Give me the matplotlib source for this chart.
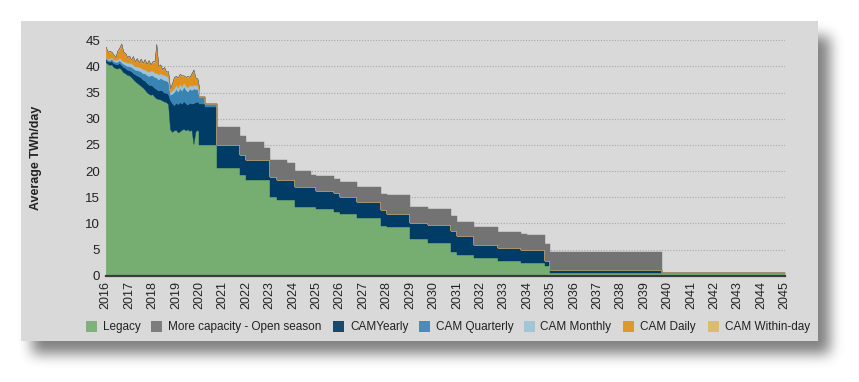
import matplotlib
matplotlib.use('Agg')
import matplotlib.pyplot as plt
from matplotlib.patches import Rectangle
import numpy as np
import pandas as pd

# ---------------- DATA ----------------
# History (monthly, Jan 2016 .. Jan 2020), values in TWh/day (layer thickness)
hist_dates = pd.date_range('2016-01-01', '2020-01-01', freq='MS')
hist_legacy = [40.8, 40.5, 40.3, 40.4, 39.9, 39.7, 39.6, 39.8, 39.4, 38.9, 38.7, 38.4,
               38.3, 38.0, 37.6, 37.2, 36.9, 36.6, 36.3, 36.0, 35.6, 35.1, 34.8, 34.6,
               34.7, 34.2, 33.9, 33.8, 33.7, 33.5, 33.3, 33.2, 32.8,
               28.0, 27.5, 27.8, 27.9, 27.4, 27.6, 27.9, 28.1, 27.8, 28.0, 27.7, 27.9, 25.2, 27.6, 27.9,
               27.5]
hist_yearly = [0.6, 0.5, 0.6, 0.7, 0.7, 0.8, 0.8, 0.9, 0.9, 1.0, 1.0, 1.0,
               1.0, 1.1, 1.2, 1.3, 1.4, 1.5, 1.6, 1.5, 1.7, 1.8, 1.7, 1.9,
               1.6, 1.7, 1.8, 1.6, 1.8, 1.9, 1.7, 1.8, 1.9,
               5.6, 5.5, 4.8, 5.2, 5.4, 5.6, 5.0, 5.3, 5.2, 4.7, 5.4, 5.0, 7.8, 5.6, 5.4,
               5.6]
hist_quarterly = [0.3, 0.3, 0.3, 0.4, 0.4, 0.4, 0.5, 0.5, 0.5, 0.6, 0.6, 0.7,
                  0.8, 0.8, 0.9, 0.9, 1.0, 1.1, 1.2, 1.2, 1.4, 1.5, 1.7, 1.8,
                  2.0, 2.1, 2.2, 2.1, 2.3, 2.2, 2.4, 2.3, 2.4,
                  1.0, 1.8, 2.5, 2.6, 2.4, 2.7, 2.5, 2.8, 2.6, 2.5, 2.7, 2.6, 2.8, 2.5, 2.4,
                  1.0]
hist_monthly = [0.2, 0.2, 0.3, 0.3, 0.3, 0.4, 0.4, 0.5, 0.5, 0.5, 0.6, 0.6,
                0.6, 0.7, 0.7, 0.6, 0.7, 0.7, 0.7, 0.8, 0.7, 0.8, 0.8, 0.9,
                0.9, 0.8, 0.9, 1.0, 0.9, 0.9, 1.0, 0.9, 0.9,
                0.5, 0.6, 0.7, 0.8, 0.7, 0.8, 0.7, 0.8, 0.7, 0.8, 0.7, 0.8, 0.7, 0.8, 0.7,
                0.6]
hist_daily = [1.7, 1.2, 1.4, 0.8, 0.9, 0.4, 1.5, 1.6, 2.9, 1.7, 1.6, 1.0,
              1.3, 0.6, 1.4, 0.9, 1.5, 0.8, 1.6, 1.0, 1.9, 1.2, 2.1, 1.1,
              1.7, 2.0, 5.2, 1.5, 1.6, 0.9, 1.4, 0.7, 1.0,
              0.6, 1.3, 2.0, 1.6, 1.9, 1.7, 2.1, 1.2, 1.6, 2.0, 1.4, 2.3, 2.7, 1.3, 1.2,
              1.0]
hist_withinday = [0.2, 0.1, 0.1, 0.2, 0.1, 0.1, 0.2, 0.3, 0.2, 0.1, 0.1, 0.1,
                  0.1, 0.1, 0.2, 0.1, 0.1, 0.1, 0.1, 0.2, 0.1, 0.1, 0.1, 0.1,
                  0.1, 0.2, 0.3, 0.1, 0.1, 0.1, 0.1, 0.1, 0.1,
                  0.1, 0.1, 0.2, 0.1, 0.1, 0.2, 0.1, 0.1, 0.1, 0.2, 0.1, 0.1, 0.2, 0.1, 0.1,
                  0.0]
hist_more = [0.0] * len(hist_legacy)

# Forecast (step periods, value holds from each start until the next)
fc_start = [2020.0, 2020.25, 2020.75, 2021.75, 2022.0, 2022.75, 2023.0, 2023.3, 2023.75,
            2024.08, 2024.75, 2025.0, 2025.75, 2026.0, 2026.75, 2027.75, 2028.0, 2029.0,
            2029.75, 2030.75, 2031.0, 2031.75, 2032.75, 2033.75, 2034.0, 2034.75, 2035.0,
            2039.75, 2045.0]
fc_legacy = [25.0, 25.0, 20.5, 19.3, 18.3, 18.3, 15.1, 14.5, 14.5, 13.2, 13.2, 12.7, 12.2,
             11.8, 11.0, 9.5, 9.3, 7.0, 6.3, 4.6, 4.0, 3.3, 2.9, 2.4, 2.4, 1.9, 0.6, 0.6, 0.6]
fc_yearly = [7.8, 7.2, 4.5, 3.8, 3.8, 3.8, 3.8, 3.8, 3.8, 3.7, 3.7, 3.4, 3.6, 3.2, 3.0,
             3.1, 2.5, 3.0, 3.3, 4.0, 3.5, 2.6, 2.3, 2.5, 2.5, 0.9, 0.5, 0.0, 0.0]
fc_quarterly = [1.3, 0.6] + [0.0] * 27
fc_monthly = [0.0] * 29
fc_daily = [0.0] * 29
fc_withinday = [0.0] * 29
fc_more = [0.0, 0.0, 3.5, 3.7, 3.5, 2.4, 3.2, 3.8, 3.2, 3.2, 2.4, 2.9, 2.6, 3.0, 2.9,
           3.1, 3.6, 3.2, 3.1, 2.9, 2.8, 3.4, 3.1, 3.1, 2.9, 3.3, 3.4, 0.0, 0.0]

series_names = ['Legacy', 'More capacity - Open season', 'CAMYearly', 'CAM Quarterly',
                'CAM Monthly', 'CAM Daily', 'CAM Within-day']
colors = {'Legacy': '#76AD70', 'More capacity - Open season': '#737373',
          'CAMYearly': '#003C66', 'CAM Quarterly': '#3A84B3', 'CAM Monthly': '#9FC3D7',
          'CAM Daily': '#E0911C', 'CAM Within-day': '#DDB866'}
years = list(range(2016, 2046))

# ---------------- FIGURE ----------------
W, H = 859, 382
plt.rcParams['font.family'] = ['Liberation Sans', 'DejaVu Sans']
fig = plt.figure(figsize=(W / 100, H / 100), dpi=100)
fig.patch.set_facecolor('white')

# soft shadow behind the panel
sh = np.zeros((H, W))
sh[36:354, 32:830] = 1.0
def box_blur(a, r, axis):
    k = np.ones(2 * r + 1) / (2 * r + 1)
    return np.apply_along_axis(lambda v: np.convolve(v, k, mode='same'), axis, a)
for _ in range(3):
    sh = box_blur(sh, 6, 0)
    sh = box_blur(sh, 6, 1)
rgba = np.zeros((H, W, 4))
rgba[..., 3] = sh * 0.5
fig.figimage(rgba, xo=0, yo=0, origin='upper', zorder=-3)

panel = Rectangle((21 / W, 1 - 340.5 / H), (817.5 - 21) / W, (340.5 - 21) / H,
                  transform=fig.transFigure, facecolor='#D9D9D9', edgecolor='none', zorder=-2)
fig.patches.append(panel)

ax_l, ax_r, ax_t, ax_b = 105.7, 784.6, 40.3, 275.7
ax = fig.add_axes([ax_l / W, 1 - ax_b / H, (ax_r - ax_l) / W, (ax_b - ax_t) / H])
ax.set_facecolor('none')

def to_dec(d):
    return d.year + (d.dayofyear - 1) / (366 if d.is_leap_year else 365)
hx = np.array([to_dec(d) for d in hist_dates])

hist_layers = [hist_legacy, hist_yearly, hist_quarterly, hist_monthly, hist_daily,
               hist_withinday, hist_more]
fc_layers = [fc_legacy, fc_yearly, fc_quarterly, fc_monthly, fc_daily, fc_withinday, fc_more]
stack_names = ['Legacy', 'CAMYearly', 'CAM Quarterly', 'CAM Monthly', 'CAM Daily',
               'CAM Within-day', 'More capacity - Open season']

def draw_stack(x, layers, step=None):
    base = np.zeros(len(x))
    for vals, name in zip(layers, stack_names):
        top = base + np.array(vals, dtype=float)
        ax.fill_between(x, base, top, step=step, facecolor=colors[name],
                        edgecolor=colors[name], linewidth=0.3, zorder=2)
        base = top

draw_stack(hx, hist_layers)
draw_stack(np.array(fc_start), fc_layers, step='post')

ax.set_xlim(2016, 2045)
ax.set_ylim(0, 45)
ax.set_yticks(range(0, 50, 5))
ax.set_xticks(years)
ax.set_xticklabels([str(y) for y in years], rotation=90, fontsize=9, color='#222222')
ax.tick_params(axis='y', labelsize=9.5, colors='#222222', length=0, pad=4)
ax.tick_params(axis='x', length=0, pad=4)
ax.yaxis.grid(True, linestyle=(0, (1, 1.5)), color='#A8A8A8', linewidth=0.8)
ax.set_axisbelow(True)
for s in ['top', 'right', 'left']:
    ax.spines[s].set_visible(False)
ax.spines['bottom'].set_color('#3C3C3C')
ax.spines['bottom'].set_linewidth(1.6)
ax.spines['bottom'].set_zorder(5)
ax.set_ylabel('Average TWh/day', fontsize=9, fontweight='bold', color='#222222')
ax.yaxis.set_label_coords((42.5 - ax_l) / (ax_r - ax_l), 0.5)

# legend (manual placement)
leg_y = 326.7
sq_x = [86, 151, 333, 419, 524, 623, 708]
tx_x = [102.5, 167.5, 350, 435.5, 540.5, 640, 725]
for name, sx, tx in zip(series_names, sq_x, tx_x):
    fig.patches.append(Rectangle((sx / W, 1 - (leg_y + 5.5) / H), 11 / W, 11 / H,
                                 transform=fig.transFigure, facecolor=colors[name],
                                 edgecolor='none', alpha=0.9))
    fig.text(tx / W, 1 - leg_y / H, name, ha='left', va='center', fontsize=8.5,
             color='#222222')

fig.savefig('out.png', dpi=100, facecolor='white')
